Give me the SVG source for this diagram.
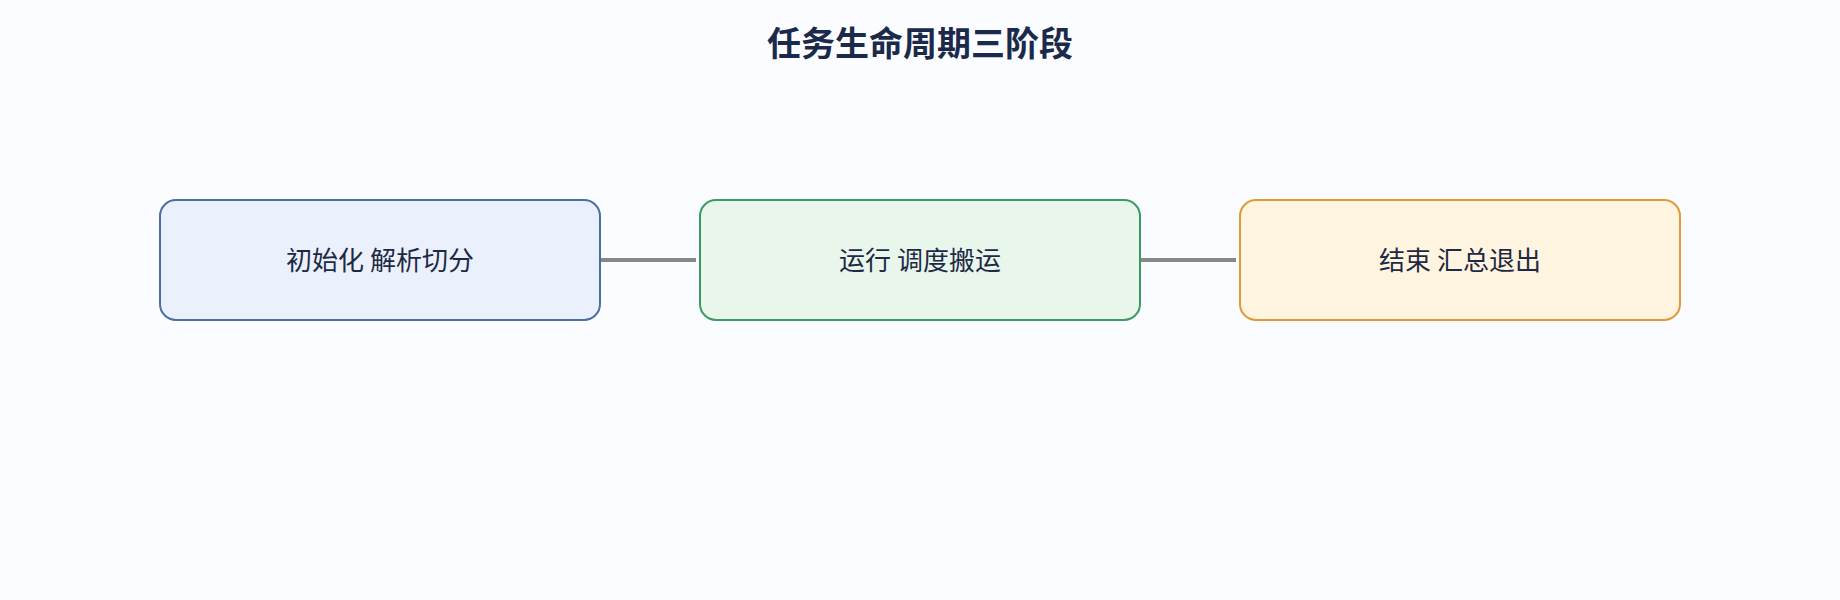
<svg xmlns="http://www.w3.org/2000/svg" width="1840" height="600" viewBox="0 0 1840 600">
<style>
.node rect{stroke-width:2}
.lbl{font-family:"Noto Sans CJK SC","Noto Sans",sans-serif;font-size:26px;fill:#1e2a44;text-anchor:middle;dominant-baseline:central}
.title{font-family:"Noto Sans CJK SC","Noto Sans",sans-serif;font-size:34px;font-weight:bold;fill:#1b2a4a;text-anchor:middle}
.edge{stroke:#888888;stroke-width:4;fill:none}
</style>
<rect width="1840" height="600" fill="#fafcff"/>
<text class="title" x="920" y="56">任务生命周期三阶段</text>
<g id="connectors">
<line class="edge" x1="600" y1="260" x2="696" y2="260"/>
<line class="edge" x1="1140" y1="260" x2="1236" y2="260"/>
</g>
<g id="node-init" class="node">
<rect x="160" y="200" width="440" height="120" rx="16" fill="#eaf1fc" stroke="#4a6fa5"/>
<text class="lbl" x="380" y="258">初始化 解析切分</text>
</g>
<g id="node-run" class="node">
<rect x="700" y="200" width="440" height="120" rx="16" fill="#e8f6ec" stroke="#3a9a64"/>
<text class="lbl" x="920" y="258">运行 调度搬运</text>
</g>
<g id="node-end" class="node">
<rect x="1240" y="200" width="440" height="120" rx="16" fill="#fff4e0" stroke="#e09a3a"/>
<text class="lbl" x="1460" y="258">结束 汇总退出</text>
</g>
</svg>
